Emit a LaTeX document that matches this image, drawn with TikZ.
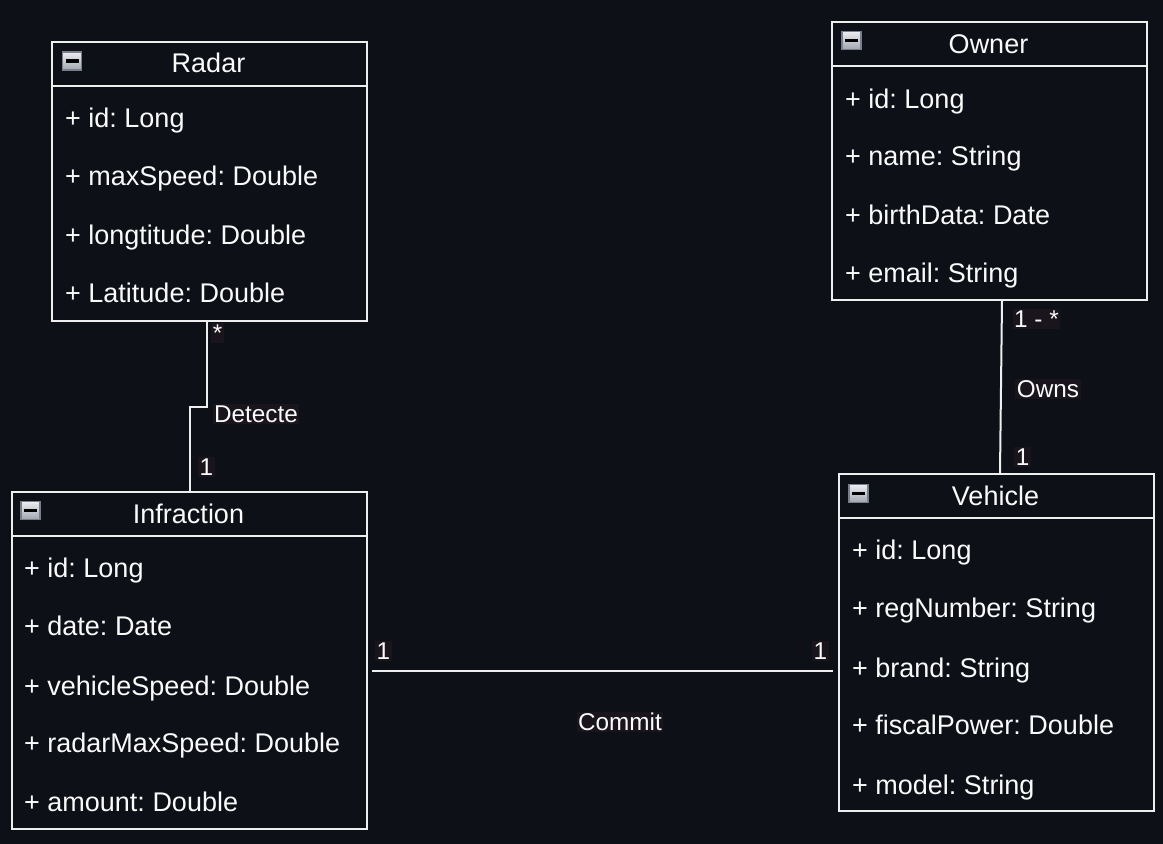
\documentclass[tikz,border=0pt]{standalone}
\usepackage{fontspec}
\setmainfont{Liberation Sans}
\frenchspacing
\definecolor{bgc}{RGB}{13,16,23}
\definecolor{lnc}{RGB}{238,238,238}
\definecolor{txc}{RGB}{250,250,250}
\definecolor{lblbg}{RGB}{26,21,28}
\definecolor{iconedge}{RGB}{120,126,140}
\definecolor{icontop}{RGB}{235,237,242}
\definecolor{iconbot}{RGB}{160,165,175}
\begin{document}
\frenchspacing
\begin{tikzpicture}[x=1pt,y=-1pt,
  ln/.style={draw=lnc, line width=2pt},
  cls/.style={draw=lnc, line width=2pt, anchor=north west, inner sep=0pt, minimum width=#1},
  ttl/.style={text=txc, inner sep=0pt, anchor=base, font=\fontsize{27}{30}\selectfont},
  attr/.style={text=txc, inner sep=0pt, anchor=base west, font=\fontsize{27}{30}\selectfont},
  lbl/.style={text=txc, fill=lblbg, inner sep=1.5pt, font=\fontsize{24.3}{28}\selectfont},
  icon/.style={draw=iconedge, line width=1.5pt, top color=icontop, bottom color=iconbot,
    minimum width=19pt, minimum height=18pt, inner sep=0pt,
    path picture={\fill[black] ([xshift=3pt,yshift=-1.6pt]path picture bounding box.west) rectangle ([xshift=-3pt,yshift=1.6pt]path picture bounding box.east);}}
]
\fill[bgc] (0,0) rectangle (1163,844);
\useasboundingbox (0,0) rectangle (1163,844);

% Radar
\node[cls=315, minimum height=279] (radar) at (51,41) {};
\draw[ln] (radar.west |- 0,86) -- (radar.east |- 0,86);
\node[icon] (radaricon) at (72,61) {};
\node[ttl] (radartitle) at (208.5,72.5) {Radar};
\node[attr] (r1) at (65,127.5) {+ id: Long};
\node[attr] (r2) at (65,185.5) {+ maxSpeed: Double};
\node[attr] (r3) at (65,244.5) {+ longtitude: Double};
\node[attr] (r4) at (65,302.5) {+ Latitude: Double};

% Owner
\node[cls=315, minimum height=278] (owner) at (831,21) {};
\draw[ln] (owner.west |- 0,66) -- (owner.east |- 0,66);
\node[icon] (ownericon) at (851.5,40.5) {};
\node[ttl] (ownertitle) at (988.5,53.5) {Owner};
\node[attr] (o1) at (845,108.5) {+ id: Long};
\node[attr] (o2) at (845,165.5) {+ name: String};
\node[attr] (o3) at (845,224.5) {+ birthData: Date};
\node[attr] (o4) at (845,282.5) {+ email: String};

% Infraction
\node[cls=355, minimum height=337] (infr) at (11,491) {};
\draw[ln] (infr.west |- 0,536) -- (infr.east |- 0,536);
\node[icon] (infricon) at (30.5,510.5) {};
\node[ttl] (infrtitle) at (188.5,523.5) {Infraction};
\node[attr] (i1) at (24,577.5) {+ id: Long};
\node[attr] (i2) at (24,635.5) {+ date: Date};
\node[attr] (i3) at (24,695.5) {+ vehicleSpeed: Double};
\node[attr] (i4) at (24,752.5) {+ radarMaxSpeed: Double};
\node[attr] (i5) at (24,811.5) {+ amount: Double};

% Vehicle
\node[cls=315, minimum height=337] (veh) at (838,473) {};
\draw[ln] (veh.west |- 0,518) -- (veh.east |- 0,518);
\node[icon] (vehicon) at (858.5,493.5) {};
\node[ttl] (vehtitle) at (995.5,505.5) {Vehicle};
\node[attr] (v1) at (852,559.5) {+ id: Long};
\node[attr] (v2) at (852,617.5) {+ regNumber: String};
\node[attr] (v3) at (852,677.5) {+ brand: String};
\node[attr] (v4) at (852,734.5) {+ fiscalPower: Double};
\node[attr] (v5) at (852,794.5) {+ model: String};

% Connectors
\draw[ln] (radar.south -| 207,0) -- ++(0,85) -| (infr.north);
\draw[ln] (owner.south -| 1002,0) -- (veh.north -| 1000,0);
\draw[ln] ([xshift=4pt]infr.east |- 0,671) -- ([xshift=-5pt]veh.west |- 0,671);

% Labels
\node[lbl] (l1) at (217.5,333) {*};
\node[lbl] (l2) at (256,414) {Detecte};
\node[lbl] (l3) at (206.5,467) {1};
\node[lbl] (l4) at (1036.5,319) {1 - *};
\node[lbl] (l5) at (1048,389) {Owns};
\node[lbl] (l6) at (1022.5,457) {1};
\node[lbl] (l7) at (383.5,651) {1};
\node[lbl] (l8) at (820.5,651) {1};
\node[lbl] (l9) at (620,722) {Commit};
\end{tikzpicture}
\end{document}
